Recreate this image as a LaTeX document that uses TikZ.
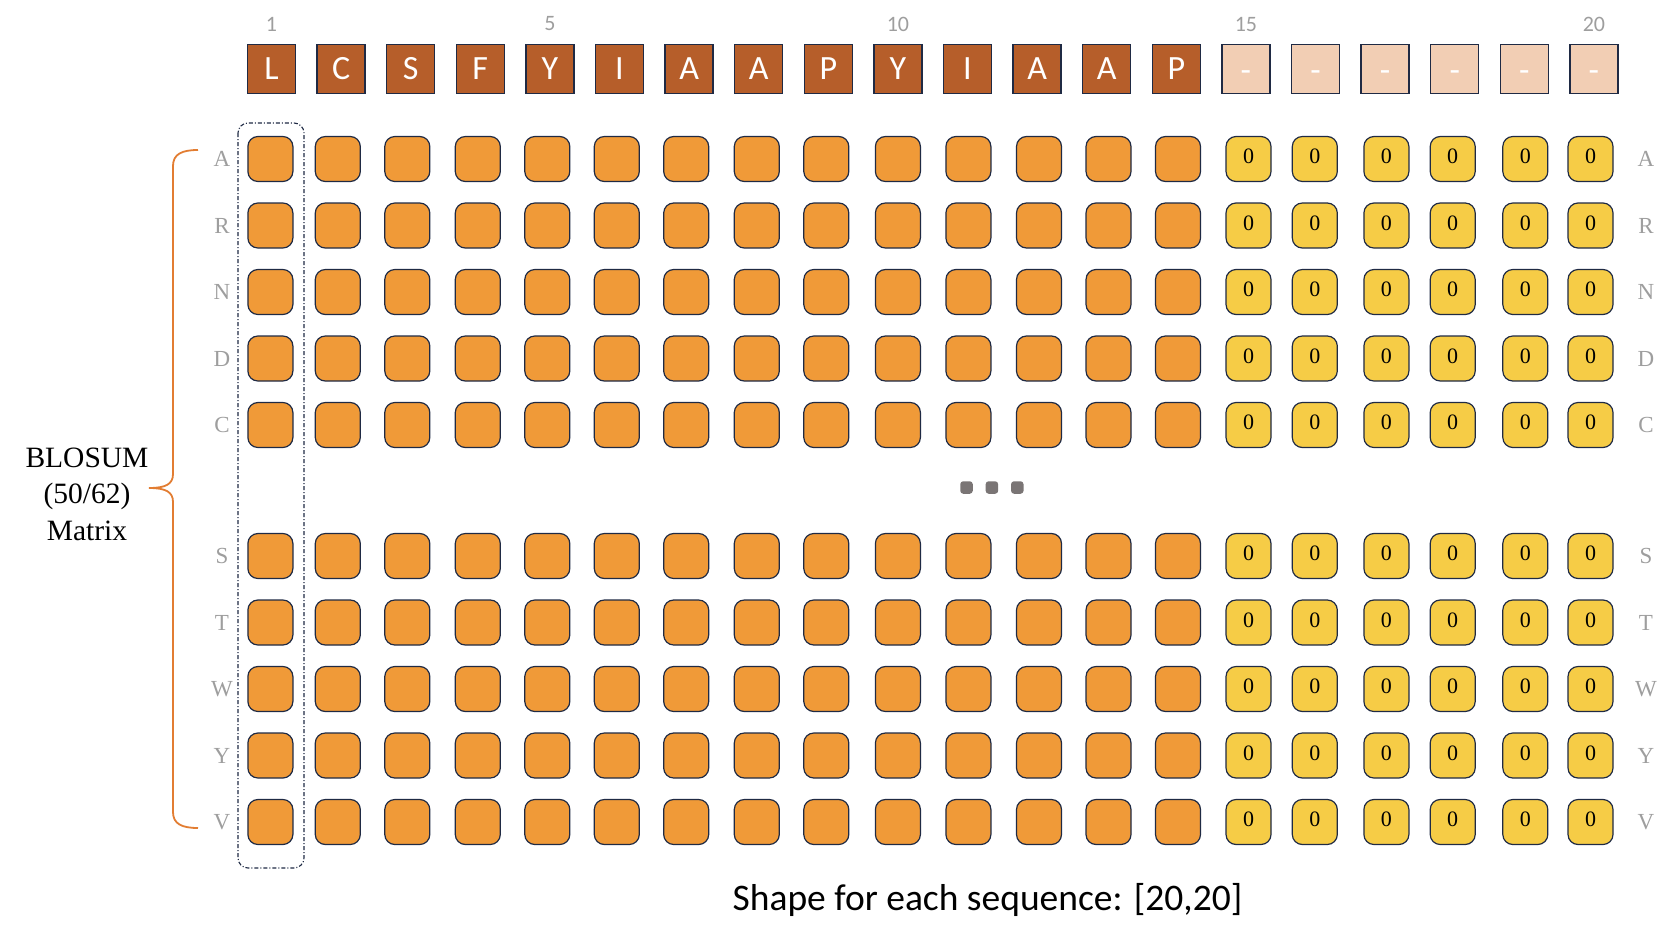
\documentclass[tikz,border=0pt]{standalone}
\usepackage{fontspec}
\setmainfont{Liberation Serif}
\newfontfamily\calibri{Carlito}
\usepackage{xcolor}
\usetikzlibrary{positioning}

\definecolor{seqbrown}{RGB}{182,94,42}
\definecolor{padpeach}{RGB}{242,206,180}
\definecolor{cellorange}{RGB}{240,154,56}
\definecolor{cellyellow}{RGB}{246,204,70}
\definecolor{cellline}{RGB}{31,42,68}
\definecolor{labelgray}{RGB}{158,158,158}
\definecolor{braceorange}{RGB}{226,125,50}
\definecolor{dotgray}{RGB}{122,117,117}

\begin{document}
\begin{tikzpicture}[
    x=1pt, y=-1pt,
    seqbox/.style={rectangle, draw=cellline, fill=seqbrown, line width=1.3pt, minimum width=48pt, minimum height=49pt, inner sep=0pt, text=white, font=\calibri\fontsize{34}{34}\selectfont},
    padbox/.style={seqbox, fill=padpeach, text height=24pt, text depth=0pt},
    cell/.style={rectangle, draw=cellline, fill=cellorange, line width=1.2pt, rounded corners=10pt, minimum size=45pt, inner sep=0pt},
    zerocell/.style={cell, fill=cellyellow, text depth=5pt, font=\fontsize{22}{22}\selectfont},
    rowlabel/.style={text=labelgray, font=\fontsize{23}{23}\selectfont},
    posnum/.style={text=labelgray, font=\calibri\fontsize{22}{22}\selectfont},
    dot/.style={rectangle, fill=dotgray, rounded corners=3pt, minimum size=12.5pt, inner sep=0pt},
    brace/.style={draw=braceorange, line width=1.8pt}
]
\useasboundingbox (0,0) rectangle (1676,932);

% Sequence positions
\foreach \p in {1,5,10,15,20}
  \node[posnum] (num\p) at ({271.5+69.6*(\p-1)},24) {\p};

% Encoded sequence
\foreach \aa [count=\i] in {L,C,S,F,Y,I,A,A,P,Y,I,A,A,P}
  \node[seqbox] (seq\i) at ({271.5+69.6*(\i-1)},69) {\aa};
\foreach \i in {15,...,20}
  \node[padbox] (seq\i) at ({271.5+69.6*(\i-1)},69) {-};

% Substitution rows
\foreach \rn/\ry in {A/159, R/225.5, N/292, D/358.5, C/425, S/556, T/622.5, W/689, Y/755.5, V/822} {
  \node[rowlabel] (lab-\rn) at (222,\ry) {\rn};
  \node[rowlabel] (rlab-\rn) at (1646,\ry) {\rn};
  \foreach \cx [count=\c] in {270.4,337.8,407.3,477.8,547.3,616.8,686.2,756.8,826.3,897.9,968.4,1039,1108.5,1178} 
    \node[cell] (cell-\rn-\c) at (\cx,\ry) {};
  \foreach \cx [count=\c from 15] in {1248.5,1314.8,1386.4,1452.7,1525.3,1590.5}
    \node[zerocell] (cell-\rn-\c) at (\cx,\ry) {0};
}

% Skipped rows
\node[dot] (dot1) at (966.5,487.5) {};
\node[dot, right=12.5pt of dot1] (dot2) {};
\node[dot, right=12.5pt of dot2] (dot3) {};

% First column highlight
\draw[cellline, line width=1.1pt, rounded corners=10pt, dash pattern=on 4pt off 2pt on 1pt off 2pt] (238,123) rectangle (304,868);

% Brace and matrix label
\draw[brace] (198,150) .. controls (182,150) and (173,154) .. (173,166) -- (173,474)
  .. controls (173,484) and (166,488) .. (149,488)
  .. controls (166,488) and (173,492) .. (173,502) -- (173,812)
  .. controls (173,824) and (182,828) .. (198,828);
\node[align=center, font=\fontsize{29.5}{36.5}\selectfont] (blosum) at (87,494) {BLOSUM\\(50/62)\\Matrix};

% Caption
\node[anchor=base, font=\calibri\fontsize{37.5}{37.5}\selectfont] (caption) at (987.5,910) {Shape for each sequence: [20,20]};

\end{tikzpicture}
\end{document}
